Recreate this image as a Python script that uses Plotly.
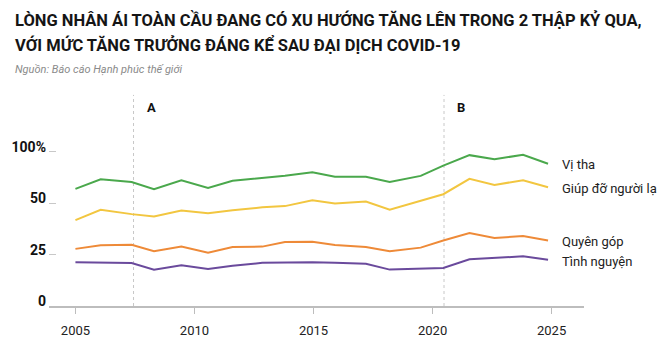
import plotly.graph_objects as go

# Data (x positions in fractional years)
years = [2005.0, 2006.06, 2007.36, 2008.3, 2009.45, 2010.57, 2011.6, 2012.85, 2013.8,
         2014.95, 2015.9, 2017.2, 2018.2, 2019.5, 2020.45, 2021.55, 2022.6, 2023.8, 2024.85]

vi_tha = [57.0, 61.7, 60.3, 56.8, 61.2, 57.4, 60.9, 62.3, 63.4, 65.1, 62.9, 62.9, 60.4,
          63.3, 68.3, 73.4, 71.4, 73.6, 69.2]
giup_do = [41.8, 46.8, 44.7, 43.6, 46.5, 45.1, 46.6, 48.0, 48.6, 51.5, 49.9, 50.8, 46.8,
           51.2, 54.4, 61.9, 58.9, 61.2, 57.8]
quyen_gop = [27.8, 29.5, 29.8, 26.7, 28.9, 25.9, 28.7, 28.9, 31.1, 31.3, 29.7, 28.7, 26.7,
             28.4, 31.9, 35.5, 33.1, 34.0, 31.9]
tinh_nguyen = [21.3, 21.2, 20.9, 17.7, 19.8, 18.0, 19.6, 21.0, 21.2, 21.3, 21.0, 20.5, 17.7,
               18.1, 18.5, 22.7, 23.3, 24.2, 22.5]

series_names = ["Vị tha", "Giúp đỡ người lạ", "Quyên góp", "Tình nguyện"]
series_values = [vi_tha, giup_do, quyen_gop, tinh_nguyen]
series_colors = ["#4aa84c", "#f2c640", "#ee8a38", "#6a4a9c"]
label_y = [68.7, 57.0, 31.5, 21.6]

x_ticks = [2005, 2010, 2015, 2020, 2025]
y_ticks = [0, 25, 50, 75]
y_ticktext = ["0", "25", "50", "100%"]

events = [(2007.44, "A"), (2020.48, "B")]

FONT = "Roboto, sans-serif"

M_T, M_B = 97, 37
PLOT_H = 350 - M_T - M_B
PLOT_BOTTOM = 350 - M_B


def ysh(px):
    return (PLOT_BOTTOM - px) - PLOT_H


fig = go.Figure()
for name, vals, col in zip(series_names, series_values, series_colors):
    fig.add_trace(go.Scatter(x=years, y=vals, mode="lines", name=name,
                             line=dict(color=col, width=2), hoverinfo="skip"))

annotations = []
for name, ly in zip(series_names, label_y):
    annotations.append(dict(x=2025.36, y=ly, xref="x", yref="y", text=name, showarrow=False,
                            xanchor="left", yanchor="middle",
                            font=dict(family=FONT, size=13, color="#222")))

shapes = []
for ex, lab in events:
    shapes.append(dict(type="line", x0=ex, x1=ex, xref="x", y0=0, y1=1.01, yref="paper",
                       line=dict(color="#c8c8c8", width=1, dash="dot"), layer="below"))
    annotations.append(dict(x=ex, y=1, xref="x", yref="paper", text="<b>" + lab + "</b>",
                            showarrow=False, xanchor="left", xshift=11, yanchor="middle",
                            yshift=ysh(107), font=dict(family=FONT, size=13, color="#111")))

# Title and subtitle
annotations.append(dict(x=0, y=1, xref="paper", yref="paper", xanchor="left", yanchor="middle",
                        xshift=-36, yshift=ysh(20),
                        text="<b>LÒNG NHÂN ÁI TOÀN CẦU ĐANG CÓ XU HƯỚNG TĂNG LÊN TRONG 2 THẬP KỶ QUA,</b>",
                        showarrow=False, font=dict(family=FONT, size=16.5, color="#151515")))
annotations.append(dict(x=0, y=1, xref="paper", yref="paper", xanchor="left", yanchor="middle",
                        xshift=-36, yshift=ysh(45),
                        text="<b>VỚI MỨC TĂNG TRƯỞNG ĐÁNG KỂ SAU ĐẠI DỊCH COVID-19</b>",
                        showarrow=False, font=dict(family=FONT, size=16.5, color="#151515")))
annotations.append(dict(x=0, y=1, xref="paper", yref="paper", xanchor="left", yanchor="middle",
                        xshift=-36, yshift=ysh(69),
                        text="<i>Nguồn: Báo cáo Hạnh phúc thế giới</i>",
                        showarrow=False, font=dict(family=FONT, size=11, color="#8a8a8a")))

fig.update_layout(
    width=669, height=350,
    margin=dict(l=46, r=85, t=M_T, b=M_B),
    paper_bgcolor="white", plot_bgcolor="white",
    showlegend=False,
    annotations=annotations,
    shapes=shapes,
    xaxis=dict(range=[2003.89, 2026.36], tickvals=x_ticks, showgrid=False, zeroline=False,
               showline=True, linecolor="#bdbdbd", linewidth=1.5, ticks="outside",
               ticklen=6, tickcolor="#bdbdbd", tickwidth=1, ticklabelstandoff=6,
               tickfont=dict(family=FONT, size=13, color="#222")),
    yaxis=dict(range=[0, PLOT_H / 2.124], tickvals=y_ticks, ticktext=y_ticktext, showgrid=False,
               zeroline=False, showline=False, ticks="inside", ticklen=7, tickcolor="#c8c8c8",
               tickwidth=1, ticklabelshift=-5, ticklabelstandoff=2,
               tickfont=dict(family=FONT, size=14, color="#111", weight="bold")),
)

fig.write_html("out.html")
